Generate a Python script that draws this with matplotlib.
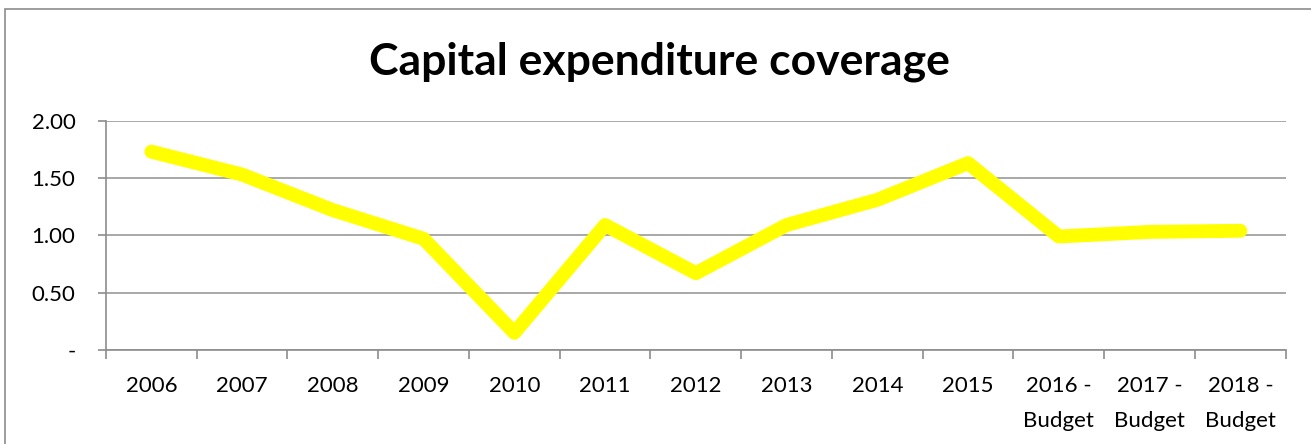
import numpy as np
import matplotlib.pyplot as plt
from matplotlib.patches import Rectangle
from matplotlib.ticker import FixedLocator, FuncFormatter

years = ["2006", "2007", "2008", "2009", "2010", "2011", "2012", "2013",
         "2014", "2015", "2016 -\nBudget", "2017 -\nBudget", "2018 -\nBudget"]
coverage = [1.73, 1.53, 1.22, 0.97, 0.15, 1.09, 0.67, 1.09,
            1.31, 1.63, 0.99, 1.03, 1.04]
y_ticks = [0.0, 0.5, 1.0, 1.5, 2.0]

plt.rcParams['font.family'] = ['Lato', 'DejaVu Sans']

W, H = 1311, 444
fig = plt.figure(figsize=(W / 100, H / 100), dpi=100)
ax = fig.add_axes([106 / W, 1 - 350 / H, (1285.7 - 106) / W, (350 - 120.7) / H])

# outer chart border (only top and left edges fall inside the image)
fig.patches.append(Rectangle((5 / W, -0.1), 1.2, 1 - 9 / H + 0.1,
                             transform=fig.transFigure, fill=False,
                             edgecolor='#8c8c8c', linewidth=1.2))

x = np.arange(len(years)) + 0.5
ax.plot(x, coverage, color='#FFFF00', linewidth=10, solid_capstyle='round',
        solid_joinstyle='round', zorder=3)

ax.set_xlim(0, len(years))
ax.set_ylim(0, 2.0)

ax.yaxis.set_major_locator(FixedLocator(y_ticks))
ax.yaxis.set_major_formatter(FuncFormatter(lambda v, p: "-" if v == 0 else f"{v:.2f}"))
ax.grid(axis='y', color='#9a9a9a', linewidth=1.2)
ax.set_axisbelow(True)

# category labels at centres, tick marks on boundaries
ax.set_xticks(x)
ax.set_xticklabels(years)
ax.xaxis.set_minor_locator(FixedLocator(np.arange(len(years) + 1)))
ax.tick_params(axis='x', which='major', length=0, pad=19, labelsize=16)
ax.tick_params(axis='x', which='minor', length=6.5, width=1.2, color='#8c8c8c', direction='out')
ax.tick_params(axis='y', length=6, width=1.2, color='#8c8c8c', pad=16, labelsize=16)
for lbl in ax.get_xticklabels():
    lbl.set_linespacing(1.9)
    lbl.set_verticalalignment('top')

for side in ['top', 'right']:
    ax.spines[side].set_visible(False)
ax.spines['left'].set_color('#8c8c8c')
ax.spines['bottom'].set_color('#8c8c8c')
ax.spines['left'].set_linewidth(1.2)
ax.spines['bottom'].set_linewidth(1.2)

fig.text(659 / W, 1 - 62 / H, "Capital expenditure coverage", ha='center', va='center',
         fontsize=32, fontweight='bold')

fig.savefig("out.png", dpi=100)
